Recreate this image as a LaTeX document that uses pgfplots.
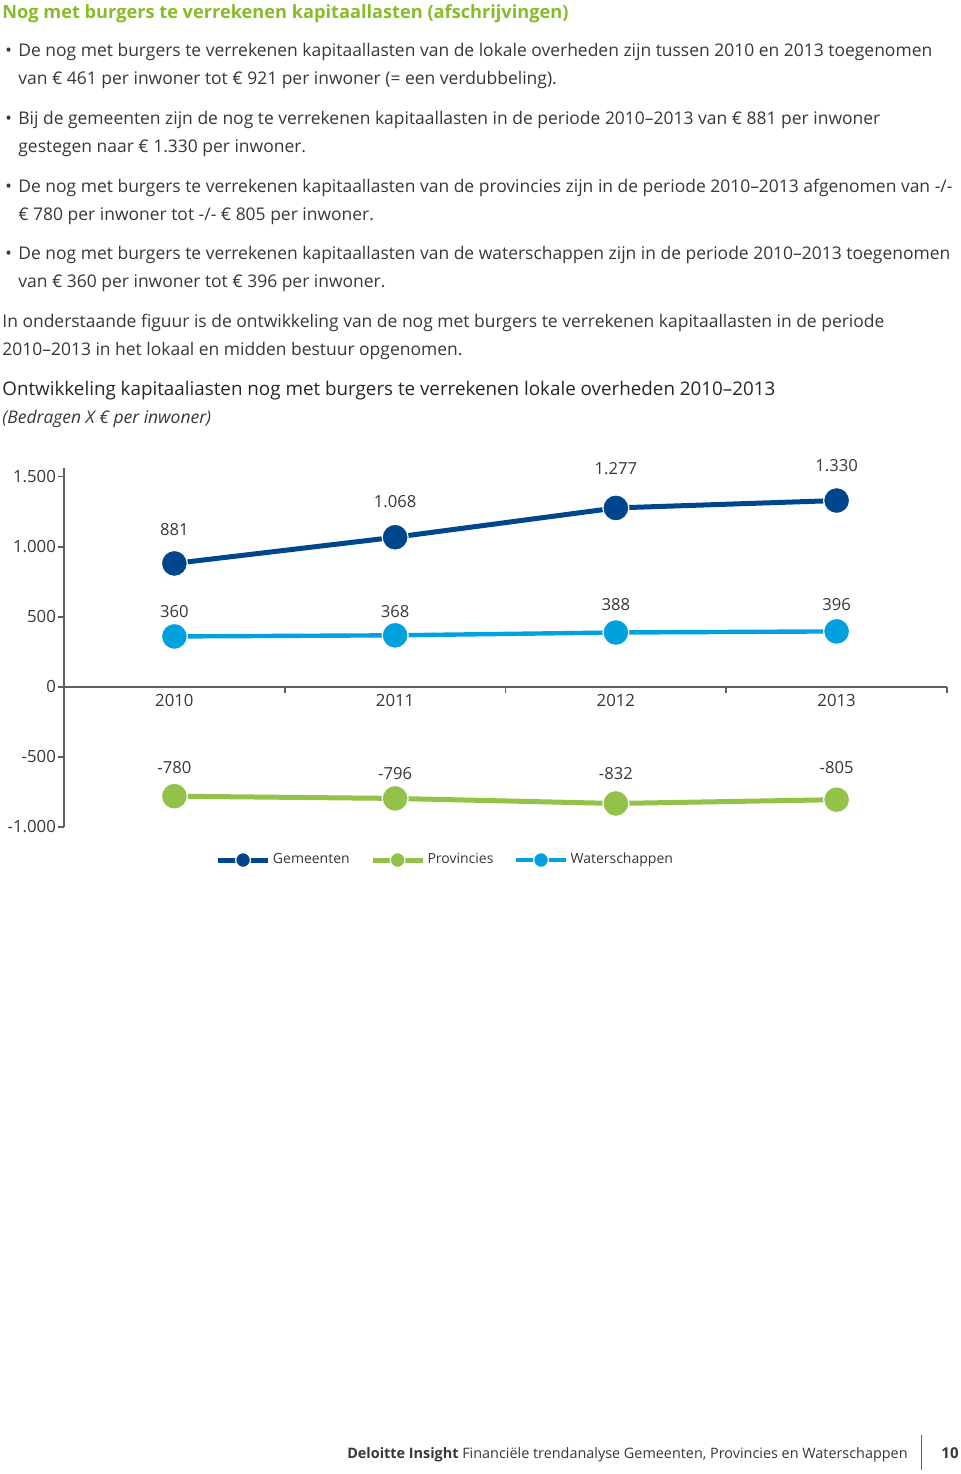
\documentclass[border=0pt]{standalone}
\usepackage{fontspec}
\setmainfont{Open Sans}
\usepackage{pgfplots}
\usepackage{pgfplotstable}
\pgfplotsset{compat=1.18}
\definecolor{dblue}{RGB}{0,70,140}
\definecolor{lblue}{RGB}{0,161,222}
\definecolor{lgreen}{RGB}{146,195,72}
\definecolor{tgreen}{RGB}{134,188,37}
\definecolor{txt}{RGB}{55,55,55}
\definecolor{axgray}{RGB}{95,95,95}
\pgfplotstableread{
x y
0 881
1 1068
2 1277
3 1330
}\gem
\pgfplotstableread{
x y
0 -780
1 -796
2 -832
3 -805
}\prov
\pgfplotstableread{
x y
0 360
1 368
2 388
3 396
}\wat
\newcommand{\body}{\fontsize{8.73}{10}\selectfont}
\begin{document}
\begin{tikzpicture}[lbl/.style={font=\fontsize{8.3}{10}\selectfont, text=txt, anchor=center}]
\path[use as bounding box] (0,0) rectangle (480pt,-737pt);
\begin{scope}[x=0.5pt,y=-0.5pt, every node/.style={inner sep=0pt, anchor=base west, text=txt}]
\node[font=\fontsize{9.1}{10}\selectfont\bfseries, text=tgreen] at (2,18) {Nog met burgers te verrekenen kapitaallasten (afschrijvingen)};
\foreach \yy in {56,124,192,259}{\node[font=\body] at (5,\yy) {•};}
\node[font=\body] at (18,56) {De nog met burgers te verrekenen kapitaallasten van de lokale overheden zijn tussen 2010 en 2013 toegenomen};
\node[font=\body] at (18,84) {van € 461 per inwoner tot € 921 per inwoner (= een verdubbeling).};
\node[font=\body] at (18,124) {Bij de gemeenten zijn de nog te verrekenen kapitaallasten in de periode 2010–2013 van € 881 per inwoner};
\node[font=\body] at (18,152) {gestegen naar € 1.330 per inwoner.};
\node[font=\body] at (18,192) {De nog met burgers te verrekenen kapitaallasten van de provincies zijn in de periode 2010–2013 afgenomen van -/-};
\node[font=\body] at (18,220) {€ 780 per inwoner tot -/- € 805 per inwoner.};
\node[font=\body] at (18,259) {De nog met burgers te verrekenen kapitaallasten van de waterschappen zijn in de periode 2010–2013 toegenomen};
\node[font=\body] at (18,287) {van € 360 per inwoner tot € 396 per inwoner.};
\node[font=\body] at (2,327) {In onderstaande figuur is de ontwikkeling van de nog met burgers te verrekenen kapitaallasten in de periode};
\node[font=\body] at (2,355) {2010–2013 in het lokaal en midden bestuur opgenomen.};
\node[font=\fontsize{9.4}{10}\selectfont, text=black!85] at (2,395) {Ontwikkeling kapitaaliasten nog met burgers te verrekenen lokale overheden 2010–2013};
\node[font=\body\itshape] at (2,423) {(Bedragen X € per inwoner)};
\node[anchor=base east, font=\fontsize{7.2}{9}\selectfont] at (908,1458) {\textbf{Deloitte Insight} Financiële trendanalyse Gemeenten, Provincies en Waterschappen};
\draw[axgray, line width=0.5pt] (921,1435) -- (921,1470);
\node[anchor=base east, font=\fontsize{7.5}{9}\selectfont\bfseries] at (959,1458) {10};
\end{scope}
\begin{axis}[
  at={(32pt,-413.5pt)}, anchor=south west,
  scale only axis, width=441.5pt, height=179.5pt,
  xmin=-0.5, xmax=3.5, ymin=-1000, ymax=1562,
  clip=false,
  axis x line=middle, axis y line=left,
  hide obscured x ticks=false, hide obscured y ticks=false,
  axis line style={axgray, line width=0.8pt, -},
  xtick={0.5,1.5,2.5,3.5}, xticklabels={},
  extra x ticks={0,1,2,3}, extra x tick labels={2010,2011,2012,2013},
  extra x tick style={major tick length=0pt},
  ytick={-1000,-500,0,500,1000,1500},
  yticklabels={-1.000,-500,0,500,1.000,1.500},
  tick align=outside, major tick length=3pt,
  tick style={axgray, line width=0.8pt},
  ticklabel style={font=\fontsize{8.4}{10}\selectfont, text=txt},
  yticklabel style={xshift=2.5pt},
  legend style={at={(0.432,-0.092)}, anchor=center, draw=none, fill=none,
    font=\fontsize{7}{9}\selectfont, text=txt, inner xsep=0pt,
    nodes={inner xsep=1.2pt},
    /tikz/every even column/.append style={column sep=9pt}},
  legend columns=3, legend cell align=left,
  legend image code/.code={\draw[mark repeat=2,mark phase=2,#1,mark size=3.7pt] plot coordinates {(0pt,0pt) (12.5pt,0pt) (25pt,0pt)};},
]
\addplot[dblue, line width=2.5pt, mark=*, mark size=6.5pt, mark options={draw=white, line width=0.6pt, fill=dblue}] table {\gem};
\addlegendentry{Gemeenten}
\addplot[lgreen, line width=2.5pt, mark=*, mark size=6.5pt, mark options={draw=white, line width=0.6pt, fill=lgreen}] table {\prov};
\addlegendentry{Provincies}
\addplot[lblue, line width=2.2pt, mark=*, mark size=6.5pt, mark options={draw=white, line width=0.6pt, fill=lblue}] table {\wat};
\addlegendentry{Waterschappen}
\node[lbl, yshift=17pt] at (axis cs:0,881) {881};
\node[lbl, yshift=18pt] at (axis cs:1,1068) {1.068};
\node[lbl, yshift=19.75pt] at (axis cs:2,1277) {1.277};
\node[lbl, yshift=17.5pt] at (axis cs:3,1330) {1.330};
\node[lbl, yshift=12.5pt] at (axis cs:0,360) {360};
\node[lbl, yshift=12pt] at (axis cs:1,368) {368};
\node[lbl, yshift=14pt] at (axis cs:2,388) {388};
\node[lbl, yshift=13.5pt] at (axis cs:3,396) {396};
\node[lbl, yshift=14.3pt] at (axis cs:0,-780) {-780};
\node[lbl, yshift=12.5pt] at (axis cs:1,-796) {-796};
\node[lbl, yshift=15pt] at (axis cs:2,-832) {-832};
\node[lbl, yshift=16pt] at (axis cs:3,-805) {-805};
\end{axis}
\end{tikzpicture}
\end{document}
